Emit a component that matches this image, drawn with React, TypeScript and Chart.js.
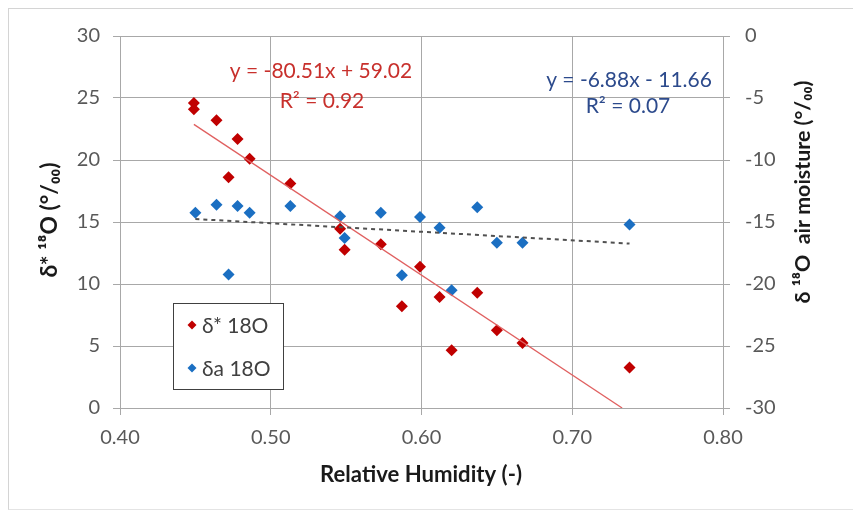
import React, { useEffect, useRef } from "react";
import { Chart, registerables } from "chart.js";

Chart.register(...registerables);

// ---- data ----
const humidityStar = [0.449, 0.449, 0.464, 0.472, 0.478, 0.486, 0.513, 0.546, 0.549, 0.573, 0.587, 0.599, 0.612, 0.62, 0.637, 0.65, 0.667, 0.738];
const deltaStar18O = [24.6, 24.1, 23.2, 18.6, 21.7, 20.1, 18.1, 14.45, 12.76, 13.2, 8.2, 11.4, 8.95, 4.66, 9.3, 6.27, 5.25, 3.27];
const humidityAir = [0.45, 0.464, 0.472, 0.478, 0.486, 0.513, 0.546, 0.549, 0.573, 0.587, 0.599, 0.612, 0.62, 0.637, 0.65, 0.667, 0.738];
const deltaAir18O = [-14.26, -13.6, -19.23, -13.7, -14.26, -13.7, -14.54, -16.3, -14.26, -19.3, -14.6, -15.47, -20.5, -13.81, -16.68, -16.68, -15.2];

const starTrendCoef = [-80.51, 59.02]; // slope, intercept
const airTrendCoef = [-6.88, -11.66];

const starEquation = ["y = -80.51x + 59.02", "R² = 0.92"];
const airEquation = ["y = -6.88x - 11.66", "R² = 0.07"];
const legendLabels = ["δ* 18O", "δa 18O"];

const xTitle = "Relative Humidity (-)";
const yLeftTitle = "δ* ¹⁸O (°/₀₀)";
const yRightTitle = "δ ¹⁸O  air moisture (°/₀₀)";

const RED = "#c00000";
const BLUE = "#1b6fc2";
const FONT = "Lato, 'Open Sans', sans-serif";

function trendPoints(xs: number[], coef: number[], floor: number) {
  const x0 = Math.min(...xs);
  let x1 = Math.max(...xs);
  const f = (x: number) => coef[0] * x + coef[1];
  if (f(x1) < floor) x1 = (floor - coef[1]) / coef[0];
  return [
    { x: x0, y: f(x0) },
    { x: x1, y: f(x1) },
  ];
}

const W = 851;
const H = 500;

function fitFont(ctx: CanvasRenderingContext2D, text: string, target: number, weight: string) {
  ctx.font = `${weight} 20px ${FONT}`;
  const w = ctx.measureText(text).width;
  const size = (20 * target) / w;
  ctx.font = `${weight} ${size.toFixed(2)}px ${FONT}`;
}

const overlayPlugin = {
  id: "overlay",
  afterDraw(chart: any) {
    const { ctx, chartArea } = chart;
    const ca = chartArea;
    ctx.save();
    // equations
    ctx.textAlign = "center";
    ctx.textBaseline = "middle";
    ctx.font = `21px ${FONT}`;
    ctx.fillStyle = "#c8302c";
    ctx.fillText(starEquation[0], ca.left + 201, ca.top + 35);
    ctx.fillText(starEquation[1], ca.left + 202, ca.top + 65);
    ctx.fillStyle = "#2c4a8c";
    ctx.fillText(airEquation[0], ca.left + 509, ca.top + 44);
    ctx.fillText(airEquation[1], ca.left + 508, ca.top + 70);

    // legend
    const lx = 164, ly = 294, lw = 110, lh = 86;
    ctx.fillStyle = "#ffffff";
    ctx.fillRect(lx, ly, lw, lh);
    ctx.strokeStyle = "#404040";
    ctx.lineWidth = 1;
    ctx.strokeRect(lx + 0.5, ly + 0.5, lw, lh);
    const items = [
      { label: legendLabels[0], color: RED, y: ly + 22 },
      { label: legendLabels[1], color: BLUE, y: ly + 65 },
    ];
    ctx.textAlign = "left";
    ctx.font = `21px ${FONT}`;
    for (const it of items) {
      const mx = lx + 19;
      const r = 4.5;
      ctx.beginPath();
      ctx.moveTo(mx, it.y - r);
      ctx.lineTo(mx + r, it.y);
      ctx.lineTo(mx, it.y + r);
      ctx.lineTo(mx - r, it.y);
      ctx.closePath();
      ctx.fillStyle = it.color;
      ctx.fill();
      ctx.fillStyle = "#404040";
      ctx.fillText(it.label, lx + 29, it.y + 1);
    }

    // axis titles
    ctx.fillStyle = "#1a1a1a";
    ctx.textAlign = "center";
    fitFont(ctx, xTitle, 202, "bold");
    ctx.fillText(xTitle, 412, 466);

    ctx.save();
    fitFont(ctx, yLeftTitle, 115, "bold");
    ctx.translate(41, 211);
    ctx.rotate(-Math.PI / 2);
    ctx.fillText(yLeftTitle, 0, 0);
    ctx.restore();

    ctx.save();
    fitFont(ctx, yRightTitle, 223, "bold");
    ctx.translate(794, 183);
    ctx.rotate(-Math.PI / 2);
    ctx.fillText(yRightTitle, 0, 0);
    ctx.restore();

    ctx.restore();
  },
};

export default function App() {
  const ref = useRef<HTMLCanvasElement | null>(null);

  useEffect(() => {
    if (!ref.current) return;
    const gridColor = "#a8a8a8";
    const tickFont = { family: FONT, size: 20 };
    const chart = new Chart(ref.current, {
      type: "scatter",
      data: {
        datasets: [
          {
            label: legendLabels[0],
            data: humidityStar.map((x, i) => ({ x, y: deltaStar18O[i] })),
            yAxisID: "y",
            backgroundColor: RED,
            borderColor: RED,
            pointStyle: "rectRot",
            pointRadius: 6,
            pointBorderWidth: 0,
            order: 3,
          },
          {
            label: legendLabels[1],
            data: humidityAir.map((x, i) => ({ x, y: deltaAir18O[i] })),
            yAxisID: "y1",
            backgroundColor: BLUE,
            borderColor: BLUE,
            pointStyle: "rectRot",
            pointRadius: 6,
            pointBorderWidth: 0,
            order: 2,
          },
          {
            label: "trend star",
            type: "line",
            data: trendPoints(humidityStar, starTrendCoef, 0),
            yAxisID: "y",
            borderColor: "#e06060",
            borderWidth: 1.3,
            pointRadius: 0,
            order: 1,
          },
          {
            label: "trend air",
            type: "line",
            data: trendPoints(humidityAir, airTrendCoef, -30),
            yAxisID: "y1",
            borderColor: "#505050",
            borderWidth: 2,
            borderDash: [4, 4],
            pointRadius: 0,
            order: 0,
          },
        ],
      } as any,
      options: {
        responsive: false,
        animation: false,
        layout: { padding: { top: 26, left: 0, right: 0, bottom: 0 } },
        plugins: { legend: { display: false }, tooltip: { enabled: false } },
        scales: {
          x: {
            type: "linear",
            min: 0.4,
            max: 0.8,
            ticks: {
              stepSize: 0.1,
              font: tickFont,
              color: "#595959",
              padding: 11,
              callback: (v: any) => Number(v).toFixed(2),
            },
            grid: { color: gridColor, tickLength: 7, lineWidth: 1 },
            border: { color: gridColor },
            afterFit: (s: any) => {
              s.height = 101;
            },
          },
          y: {
            position: "left",
            min: 0,
            max: 30,
            ticks: { stepSize: 5, font: tickFont, color: "#595959", padding: 13 },
            grid: { color: gridColor, tickLength: 7 },
            border: { color: gridColor },
            afterFit: (s: any) => {
              s.width = 111;
            },
          },
          y1: {
            position: "right",
            min: -30,
            max: 0,
            ticks: { stepSize: 5, font: tickFont, color: "#595959", padding: 15 },
            grid: { color: gridColor, tickLength: 7, drawOnChartArea: false },
            border: { color: gridColor },
            afterFit: (s: any) => {
              s.width = 137;
            },
          },
        },
      } as any,
      plugins: [overlayPlugin],
    });
    return () => chart.destroy();
  }, []);

  return (
    <div
      style={{
        position: "relative",
        width: W,
        height: H,
        borderTop: "1px solid #d4d4d4",
        borderLeft: "1px solid #d4d4d4",
        borderBottom: "1px solid #e4e4e4",
        background: "#fff",
      }}
    >
      <canvas ref={ref} width={W} height={H} style={{ display: "block" }} />
    </div>
  );
}
